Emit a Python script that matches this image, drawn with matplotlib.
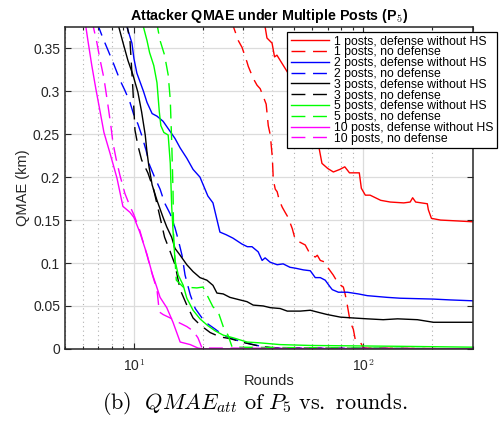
import numpy as np
import matplotlib
matplotlib.use('Agg')
import matplotlib.pyplot as plt
from matplotlib.ticker import LogLocator, NullFormatter, FixedLocator

plt.rcParams['font.family'] = ['Liberation Sans', 'DejaVu Sans']
plt.rcParams['mathtext.fontset'] = 'cm'

# 1 posts
r1_def = [36, 38, 40, 41, 42, 47, 64, 66, 70, 74, 79, 83, 87, 92, 96, 98, 102, 107,
          119, 131, 150, 160, 164, 169, 190, 192, 198, 217, 257, 300]
q1_def = [0.40, 0.362, 0.356, 0.340, 0.342, 0.321, 0.235, 0.216, 0.210, 0.206, 0.209,
          0.212, 0.205, 0.205, 0.205, 0.187, 0.179, 0.179, 0.173, 0.171, 0.170, 0.171,
          0.176, 0.171, 0.169, 0.162, 0.152, 0.150, 0.149, 0.148]
r1_no = [26.5, 28.5, 29.6, 31.1, 31.5, 33.1, 34.4, 35.5, 36.6, 37.7, 38.5, 39.3, 40.1,
         40.5, 41.3, 42.1, 43.0, 44.3, 45.6, 47.0, 49.0, 50.5, 53.1, 55.8, 58.7, 61.7,
         63.0, 64.9, 68.2, 70.3, 73.9, 77.8, 81.8, 83.4, 85.1, 87.7, 90.4, 92.3, 97.0,
         100, 300]
q1_no = [0.383, 0.359, 0.351, 0.334, 0.329, 0.315, 0.307, 0.303, 0.294, 0.285, 0.260,
         0.249, 0.223, 0.197, 0.186, 0.183, 0.173, 0.165, 0.159, 0.153, 0.140, 0.127,
         0.124, 0.121, 0.110, 0.107, 0.109, 0.103, 0.101, 0.094, 0.086, 0.076, 0.072,
         0.063, 0.051, 0.031, 0.023, 0.010, 0.008, 0.001, 0.0]

# 2 posts
r2_def = [9.2, 9.8, 10.0, 10.3, 11.0, 11.4, 12.0, 12.6, 13.4, 14.4, 15.1, 15.9, 17.0,
          18.1, 19.4, 21.0, 22.1, 23.7, 25.2, 27.0, 29.6, 31.2, 32.7, 34.8, 36.2, 37.3,
          39.2, 42.1, 44.7, 47.9, 50.5, 54.8, 58.7, 61.7, 64.9, 68.2, 71.7, 73.2, 77.8,
          85.1, 95.1, 104, 127, 145, 202, 240, 300]
q2_def = [0.38, 0.356, 0.338, 0.321, 0.300, 0.287, 0.274, 0.271, 0.265, 0.253, 0.245,
          0.234, 0.222, 0.209, 0.200, 0.178, 0.170, 0.136, 0.133, 0.129, 0.122, 0.119,
          0.119, 0.113, 0.103, 0.106, 0.101, 0.098, 0.099, 0.095, 0.094, 0.092, 0.091,
          0.083, 0.083, 0.080, 0.072, 0.069, 0.066, 0.066, 0.064, 0.062, 0.060, 0.059,
          0.058, 0.057, 0.056]
r2_no = [6.9, 7.32, 7.7, 8.18, 8.69, 9.13, 9.61, 10.0, 10.4, 10.8, 11.3, 11.7, 12.3,
         13.0, 13.6, 14.4, 15.1, 15.6, 16.2, 16.7, 17.6, 18.5, 19.8, 21.0, 22.6, 24.5,
         26.2, 29.6, 33.1, 37.3, 40.4, 300]
q2_no = [0.38, 0.362, 0.348, 0.331, 0.313, 0.301, 0.287, 0.272, 0.262, 0.249, 0.231,
         0.214, 0.200, 0.186, 0.170, 0.157, 0.141, 0.127, 0.109, 0.086, 0.063, 0.047,
         0.036, 0.029, 0.023, 0.016, 0.013, 0.008, 0.005, 0.002, 0.001, 0.0]

# 3 posts
r3_def = [8.43, 8.95, 9.41, 9.9, 10.4, 10.8, 11.2, 11.4, 11.6, 12.0, 12.6, 13.4, 13.9,
          14.6, 15.1, 15.9, 17.0, 18.1, 19.4, 20.8, 22.1, 23.0, 24.5, 26.2, 29.0, 31.1,
          33.1, 36.6, 39.3, 43.4, 46.6, 53.1, 58.7, 64.9, 69.6, 79.4, 90.4, 104, 122,
          141, 172, 202, 240, 300]
q3_def = [0.383, 0.357, 0.336, 0.319, 0.299, 0.276, 0.249, 0.229, 0.214, 0.191, 0.173,
          0.153, 0.142, 0.130, 0.117, 0.109, 0.098, 0.090, 0.083, 0.080, 0.074, 0.065,
          0.064, 0.060, 0.057, 0.055, 0.051, 0.050, 0.048, 0.047, 0.044, 0.044, 0.045,
          0.042, 0.040, 0.037, 0.036, 0.035, 0.034, 0.035, 0.034, 0.031, 0.031, 0.031]
r3_no = [9.23, 9.61, 9.9, 10.1, 10.4, 10.8, 11.5, 12.2, 13.0, 13.6, 14.4, 15.1, 15.9,
         17.0, 18.1, 19.4, 21.5, 23.7, 26.2, 30.5, 35.5, 41.3, 300]
q3_no = [0.383, 0.359, 0.301, 0.255, 0.237, 0.220, 0.205, 0.185, 0.153, 0.130, 0.113,
         0.098, 0.069, 0.051, 0.036, 0.028, 0.019, 0.014, 0.012, 0.007, 0.003, 0.001, 0.0]

# 5 posts
r5_def = [10.8, 11.4, 11.7, 12.2, 12.6, 12.9, 13.1, 13.5, 14.1, 14.4, 14.6, 14.8, 15.1,
          15.6, 16.4, 17.0, 18.1, 19.4, 21.0, 22.6, 24.5, 27.0, 31.1, 35.5, 43.4, 58.7,
          145, 300]
q5_def = [0.383, 0.359, 0.345, 0.330, 0.310, 0.276, 0.260, 0.252, 0.249, 0.216, 0.167,
          0.138, 0.103, 0.086, 0.074, 0.059, 0.045, 0.035, 0.027, 0.021, 0.016, 0.013,
          0.008, 0.007, 0.005, 0.004, 0.003, 0.002]
r5_no = [12.5, 13.0, 13.6, 14.1, 14.4, 14.5, 14.6, 14.8, 14.9, 15.3, 16.4, 18.8, 20.0,
         20.8, 22.1, 23.3, 24.5, 25.7, 26.8, 300]
q5_no = [0.383, 0.359, 0.342, 0.319, 0.290, 0.266, 0.243, 0.185, 0.127, 0.080, 0.072,
         0.071, 0.072, 0.063, 0.049, 0.043, 0.026, 0.016, 0.002, 0.0]

# 10 posts
r10_def = [6.11, 6.3, 6.55, 6.82, 7.1, 7.4, 7.86, 8.43, 8.95, 9.61, 10.0, 10.6, 11.4,
           12.0, 12.5, 13.0, 13.9, 14.8, 15.9, 17.6, 19.0, 20.0, 300]
q10_def = [0.383, 0.359, 0.330, 0.303, 0.278, 0.252, 0.228, 0.199, 0.166, 0.159, 0.153,
           0.136, 0.110, 0.088, 0.074, 0.060, 0.048, 0.031, 0.008, 0.005, 0.001, 0.0, 0.0]
r10_no = [6.55, 6.89, 7.1, 7.4, 7.7, 7.93, 8.1, 8.35, 8.69, 9.13, 9.61, 10.0, 10.6, 11.4,
          12.1, 12.6, 12.9, 13.4, 14.4, 15.6, 17.0, 18.1, 19.0, 19.4, 19.8, 300]
q10_no = [0.383, 0.357, 0.338, 0.315, 0.284, 0.260, 0.240, 0.222, 0.202, 0.181, 0.166,
          0.156, 0.138, 0.109, 0.084, 0.069, 0.043, 0.040, 0.036, 0.031, 0.026, 0.021,
          0.013, 0.007, 0.001, 0.0]

fig = plt.figure(figsize=(5.03, 4.26), dpi=100, facecolor='white')
ax = fig.add_axes([0.129, 0.181, 0.811, 0.756])

dash = (10, 5.5)
lw = 1.0
ax.plot(r1_def, q1_def, '-', c='red', lw=lw, label='1 posts, defense without HS')
ax.plot(r1_no, q1_no, '--', c='red', lw=lw, dashes=dash, label='1 posts, no defense')
ax.plot(r2_def, q2_def, '-', c='blue', lw=lw, label='2 posts, defense without HS')
ax.plot(r2_no, q2_no, '--', c='blue', lw=lw, dashes=dash, label='2 posts, no defense')
ax.plot(r3_def, q3_def, '-', c='black', lw=lw, label='3 posts, defense without HS')
ax.plot(r3_no, q3_no, '--', c='black', lw=lw, dashes=dash, label='3 posts, no defense')
ax.plot(r5_def, q5_def, '-', c='#00ff00', lw=lw, label='5 posts, defense without HS')
ax.plot(r5_no, q5_no, '--', c='#00ff00', lw=lw, dashes=dash, label='5 posts, no defense')
ax.plot(r10_def, q10_def, '-', c='magenta', lw=lw, label='10 posts, defense without HS')
ax.plot(r10_no, q10_no, '--', c='magenta', lw=lw, dashes=dash, label='10 posts, no defense')

ax.set_xscale('log')
ax.set_xlim(5, 300)
ax.set_ylim(0, 0.375)
ax.set_yticks([0, 0.05, 0.1, 0.15, 0.2, 0.25, 0.3, 0.35])
ax.set_yticklabels(['0', '0.05', '0.1', '0.15', '0.2', '0.25', '0.3', '0.35'])
ax.xaxis.set_major_locator(FixedLocator([10, 100]))
ax.set_xticklabels(['10$^1$', '10$^2$'])
ax.xaxis.set_minor_locator(LogLocator(base=10, subs=np.arange(2, 10)))
ax.xaxis.set_minor_formatter(NullFormatter())

ax.grid(True, which='major', color='#dcdcdc', lw=0.9, ls='-')
ax.grid(True, which='minor', axis='x', color='#b0b0b0', lw=0.8, ls=(0, (1, 3)))
ax.set_axisbelow(True)
ax.tick_params(which='both', direction='in', top=True, right=True, labelsize=10,
               colors='#262626', width=0.8)
ax.tick_params(which='major', length=4)
ax.tick_params(which='minor', length=2)
ax.tick_params(axis='x', which='major', pad=7)
for s in ax.spines.values():
    s.set_color('#262626')
    s.set_linewidth(1.1)

ax.set_xlabel('Rounds', fontsize=10.5, color='#262626', labelpad=0)
ax.set_ylabel('QMAE (km)', fontsize=10.5, color='#262626', labelpad=2)
ax.set_title('Attacker QMAE under Multiple Posts (P$_\\mathbf{5}$)', fontsize=10.3,
             fontweight='bold', pad=5)

leg = ax.legend(loc='upper right', bbox_to_anchor=(0.988, 0.925),
                bbox_transform=fig.transFigure, fontsize=8.8, handlelength=3.1,
                labelspacing=-0.1, borderpad=0.3, handletextpad=0.4, borderaxespad=0,
                fancybox=False, framealpha=1, edgecolor='black')
leg.get_frame().set_linewidth(0.9)

fig.text(0.507, 0.052, r'$\mathrm{(b)}\ \ QMAE_{att}\ \mathrm{of}\ P_5\ \mathrm{vs.\ rounds.}$',
         ha='center', va='center', fontsize=16)

fig.savefig('out.png', dpi=100)
